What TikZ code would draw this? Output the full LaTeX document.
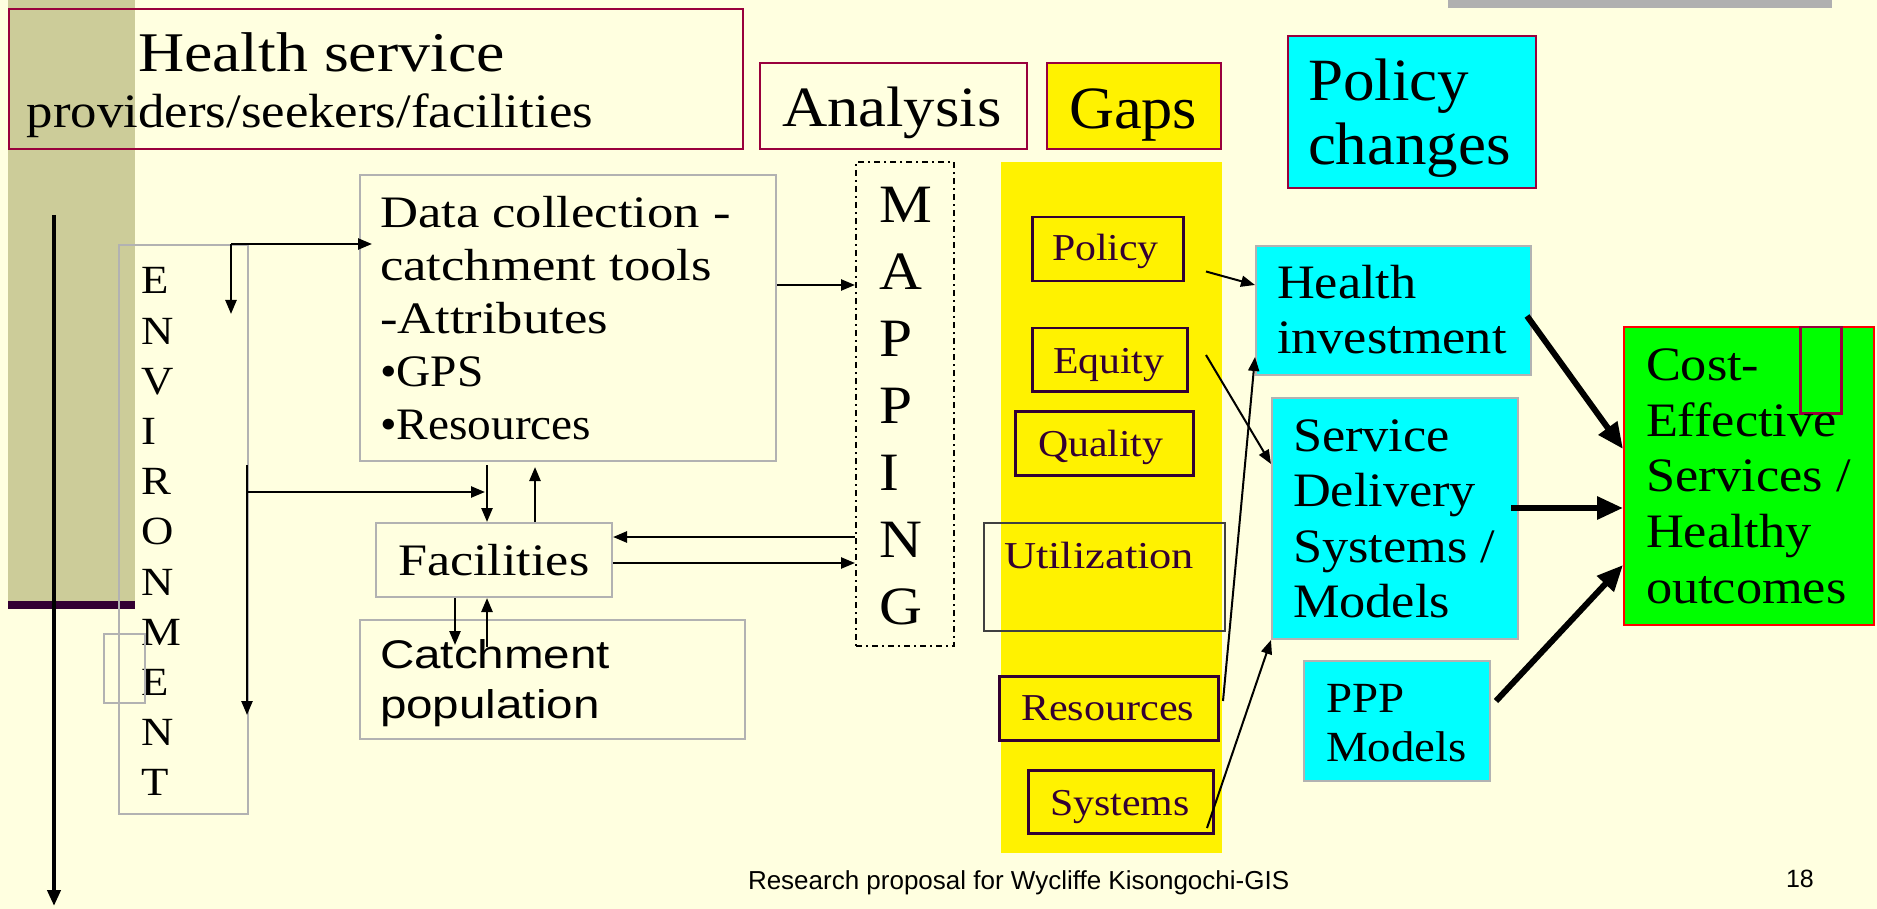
\documentclass[tikz,border=0pt]{standalone}
\usepackage{fontspec}
\setmainfont{Liberation Serif}
\newfontfamily\arial{Liberation Sans}
\usepackage{graphicx}
\usetikzlibrary{arrows.meta}
\definecolor{cream}{HTML}{FFFFE0}
\definecolor{stripcol}{HTML}{CCCC99}
\definecolor{plum}{HTML}{330033}
\definecolor{crimson}{HTML}{99003D}
\definecolor{lgray}{HTML}{B2B2B2}
\definecolor{dgray}{HTML}{404040}
\definecolor{cyanbox}{HTML}{00FFFF}
\definecolor{greenbox}{HTML}{00FF00}
\definecolor{barcol}{HTML}{B0B0B0}
\newcommand{\mytext}[5]{\scalebox{#3}[1]{\fontsize{#1}{#2}\selectfont\begin{tabular}[t]{@{}#4@{}}#5\end{tabular}}}
\tikzset{
  rbox/.style={draw=crimson,line width=2pt,anchor=north west,inner sep=0pt},
  gbox/.style={draw=lgray,line width=2pt,anchor=north west,inner sep=0pt},
  gapbox/.style={draw=plum,line width=2.5pt,anchor=north west,inner sep=0pt},
  txt/.style={anchor=base west,inner sep=0pt,outer sep=0pt},
  arr/.style={line width=2.5pt,-{Triangle[length=14pt,width=11pt]}},
  thinarr/.style={line width=2pt,-{Triangle[length=14pt,width=11pt]}},
  bigarr/.style={line width=6pt,-{Triangle[length=26pt,width=22pt]}},
}
\begin{document}
\begin{tikzpicture}[x=1pt,y=-1pt]
\useasboundingbox (0,0) rectangle (1877,909);
\fill[cream] (0,0) rectangle (1877,909);
% decorations
\fill[stripcol] (8,0) rectangle (135,601);
\fill[plum] (8,601) rectangle (135,609);
\fill[barcol] (1448,0) rectangle (1832,8);
\fill[yellow] (1001,162) rectangle (1222,853);

% header boxes
\node[rbox,minimum width=734pt,minimum height=140pt] (title) at (8,8) {};
\node[txt] (title1) at (138,72) {\mytext{56}{64}{1.14}{l}{Health service}};
\node[txt] (title2) at (27,128) {\mytext{48}{56}{1.10}{l}{providers/seekers/facilities}};
\node[rbox,minimum width=267pt,minimum height=86pt] (analysis) at (759,62) {};
\node[txt] (tanalysis) at (782,127) {\mytext{57}{64}{1.10}{l}{Analysis}};
\node[rbox,fill=yellow,minimum width=174pt,minimum height=86pt] (gaps) at (1046,62) {};
\node[txt] (tgaps) at (1069,129) {\mytext{60}{68}{1.04}{l}{Gaps}};
\node[rbox,fill=cyanbox,minimum width=248pt,minimum height=152pt] (polch) at (1287,35) {};
\node[txt] (tpolch) at (1308,101) {\mytext{60}{64}{1.05}{l}{Policy\\changes}};

% left part
\node[gbox,minimum width=129pt,minimum height=569pt] (env) at (118,244) {};
\node[txt] (tenv) at (141,294) {\mytext{40}{50.2}{1.12}{l}{E\\N\\V\\I\\R\\O\\N\\M\\E\\N\\T}};
\node[gbox,minimum width=41pt,minimum height=69pt] (small) at (103,633) {};
\node[gbox,minimum width=416pt,minimum height=286pt] (data) at (359,174) {};
\node[txt] (tdata) at (380,228) {\mytext{45}{53}{1.17}{l}{Data collection -\\catchment tools\\-Attributes\\\scalebox{0.9}[1]{•GPS}\\\scalebox{0.9}[1]{•Resources}}};
\node[gbox,minimum width=236pt,minimum height=74pt] (fac) at (375,522) {};
\node[txt] (tfac) at (398,575) {\mytext{45}{53}{1.16}{l}{Facilities}};
\node[gbox,minimum width=385pt,minimum height=119pt] (catch) at (359,619) {};
\node[txt] (tcatch) at (380,668) {\arial\mytext{40}{50}{1.19}{l}{Catchment\\population}};
\node[draw=black,line width=2pt,dash pattern=on 6pt off 4pt on 2pt off 4pt,anchor=north west,inner sep=0pt,minimum width=98pt,minimum height=484pt] (map) at (855,161) {};
\node[txt] (tmap) at (879,223) {\mytext{54}{67}{1.10}{l}{M\\A\\P\\P\\I\\N\\G}};

% gaps column
\node[gapbox,minimum width=151pt,minimum height=64pt] (gpol) at (1031,216) {};
\node[txt,text=plum] (tgpol) at (1052,261) {\mytext{38}{44}{1.10}{l}{Policy}};
\node[gapbox,minimum width=155pt,minimum height=63pt] (gequ) at (1031,327) {};
\node[txt,text=plum] (tgequ) at (1053,373) {\mytext{38}{44}{1.10}{l}{Equity}};
\node[gapbox,minimum width=178pt,minimum height=64pt] (gqual) at (1014,410) {};
\node[txt,text=plum] (tgqual) at (1038,456) {\mytext{38}{44}{1.10}{l}{Quality}};
\node[draw=dgray,line width=2pt,anchor=north west,inner sep=0pt,minimum width=241pt,minimum height=108pt] (gutil) at (983,522) {};
\node[txt,text=plum] (tgutil) at (1004,568) {\mytext{38}{44}{1.17}{l}{Utilization}};
\node[gapbox,minimum width=219pt,minimum height=64pt] (gres) at (998,675) {};
\node[txt,text=plum] (tgres) at (1021,720) {\mytext{38}{44}{1.11}{l}{Resources}};
\node[gapbox,minimum width=185pt,minimum height=63pt] (gsys) at (1027,769) {};
\node[txt,text=plum] (tgsys) at (1050,815) {\mytext{38}{44}{1.10}{l}{Systems}};

% right part
\node[gbox,fill=cyanbox,minimum width=275pt,minimum height=129pt] (hi) at (1255,245) {};
\node[txt] (thi) at (1277,298.5) {\mytext{48}{55}{1.09}{l}{Health\\investment}};
\node[gbox,fill=cyanbox,minimum width=246pt,minimum height=241pt] (serv) at (1271,397) {};
\node[txt] (tserv) at (1293,451) {\mytext{48}{55.5}{1.09}{l}{Service\\Delivery\\Systems /\\Models}};
\node[gbox,fill=cyanbox,minimum width=186pt,minimum height=120pt] (ppp) at (1303,660) {};
\node[txt] (tppp) at (1326,712) {\mytext{43}{49}{1.09}{l}{PPP\\Models}};
\node[draw=red,fill=greenbox,line width=2pt,anchor=north west,inner sep=0pt,minimum width=250pt,minimum height=298pt] (cost) at (1623,326) {};
\node[draw=crimson,line width=2.5pt,anchor=north west,inner sep=0pt,minimum width=41pt,minimum height=86pt] (inner) at (1799,326) {};
\node[txt] (tcost) at (1646,381) {\mytext{48}{55.5}{1.09}{l}{Cost-\\Effective\\Services /\\Healthy\\outcomes}};

% footer
\node[txt] (foot) at (748,889) {\arial\fontsize{26}{30}\selectfont Research proposal for Wycliffe Kisongochi-GIS};
\node[txt] (pnum) at (1786,887) {\arial\fontsize{25}{30}\selectfont 18};

% coordinates
\coordinate (vtop) at (54,215);
\coordinate (vbot) at (54,906);
\coordinate (yA) at (0,285);
\coordinate (yB) at (0,537);
\coordinate (yC) at (0,563);
\coordinate (ej) at (231,244);
\coordinate (ejd) at (231,314);
\coordinate (er1) at (247,465);
\coordinate (er2) at (247,715);
\coordinate (eh) at (247,492);
\coordinate (eh2) at (485,492);
\coordinate (fd) at (487,465);
\coordinate (fu) at (535,467);
\coordinate (cd) at (455,645);
\coordinate (cu) at (487,647);
\coordinate (p1) at (1206,271.5);
\coordinate (e1) at (1206,355);
\coordinate (yE) at (0,464);
\coordinate (r1) at (1223,701);
\coordinate (yR) at (0,357);
\coordinate (s1) at (1207,828);
\coordinate (h1) at (1527,316);
\coordinate (yH) at (0,449);
\coordinate (sv1) at (1511,508);
\coordinate (pp1) at (1496,701);
\coordinate (yP) at (0,565);

% connectors
\draw[line width=4pt,-{Triangle[length=16pt,width=13pt]}] (vtop) -- (vbot);
\draw[arr] (data.east |- yA) -- (map.west |- yA);
\draw[arr] (map.west |- yB) -- (fac.east |- yB);
\draw[arr] (fac.east |- yC) -- (map.west |- yC);
\draw[arr] (ej) -- ([xshift=13pt]data.west |- ej);
\draw[arr] (ej) -- (ejd);
\draw[arr] (er1) -- (er2);
\draw[arr] (eh) -- (eh2);
\draw[arr] (fd) -- (fd |- fac.north);
\draw[arr] (fu |- fac.north) -- (fu);
\draw[arr] (cd |- fac.south) -- (cd);
\draw[arr] (cu) -- (cu |- fac.south);
\draw[thinarr] (p1) -- (hi.west |- yA);
\draw[thinarr] (e1) -- (serv.west |- yE);
\draw[thinarr] (r1) -- (hi.west |- yR);
\draw[thinarr] (s1) -- (serv.south west);
\draw[bigarr] (h1) -- (cost.west |- yH);
\draw[bigarr] (sv1) -- (cost.west |- sv1);
\draw[bigarr] (pp1) -- (cost.west |- yP);
\end{tikzpicture}
\end{document}
